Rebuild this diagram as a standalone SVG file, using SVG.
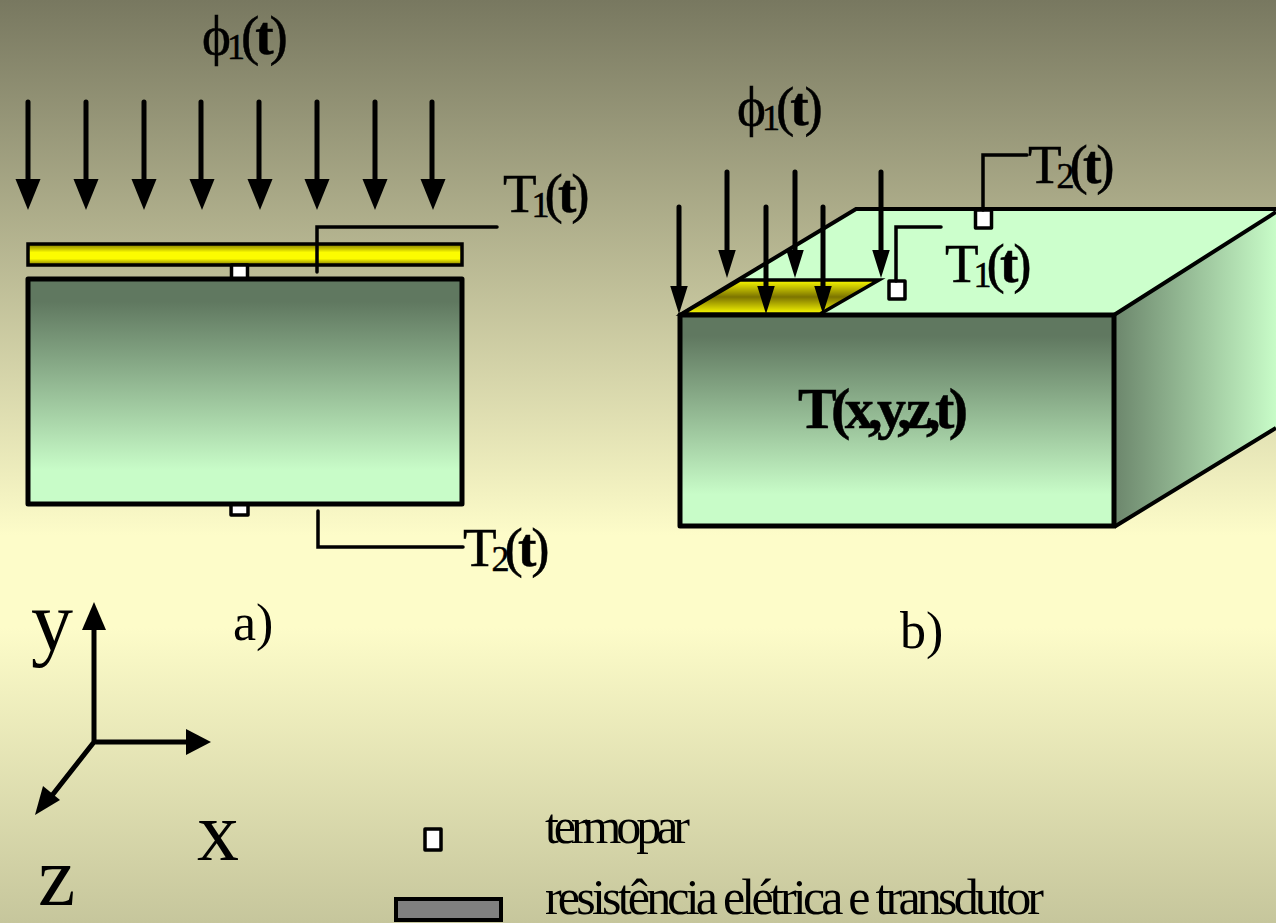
<svg xmlns="http://www.w3.org/2000/svg" width="1276" height="923" viewBox="0 0 1276 923">
<style>
text{font-family:"Liberation Serif","Times New Roman",serif;fill:#000}
.lab{font-size:55px;letter-spacing:-4px;stroke:#000;stroke-width:.5}
.tl{letter-spacing:-5px}
.sub{font-size:36px}
.b{font-weight:bold}
.big{font-size:84px}
.leg{font-size:50px}
.ln{fill:none;stroke:#000;stroke-width:3.5;stroke-linecap:round}
.ar{fill:none;stroke:#000;stroke-width:5;stroke-linecap:round}
.hd{fill:#000}
.tc{fill:#fff;stroke:#000;stroke-width:3.5;stroke-linejoin:round}
.box{stroke:#000;stroke-width:5;stroke-linejoin:round}
</style>
<defs>
<linearGradient id="bg" x1="0" y1="0" x2="0" y2="1">
<stop offset="0" stop-color="#787860"/><stop offset=".58" stop-color="#fdfcc9"/><stop offset=".68" stop-color="#fdfcc9"/><stop offset="1" stop-color="#c6c69c"/>
</linearGradient>
<linearGradient id="front" x1="0" y1="0" x2="0" y2="1">
<stop offset="0" stop-color="#607860"/><stop offset=".1" stop-color="#607860"/><stop offset=".85" stop-color="#c8fcc8"/><stop offset="1" stop-color="#c8fcc8"/>
</linearGradient>
<linearGradient id="side" x1="0" y1="0" x2="1" y2="0">
<stop offset="0" stop-color="#6c866c"/><stop offset="1" stop-color="#c8fcc8"/>
</linearGradient>
<linearGradient id="yel" x1="0" y1="0" x2="0" y2="1">
<stop offset="0" stop-color="#807800"/><stop offset=".4" stop-color="#fcfc00"/><stop offset=".7" stop-color="#fcfc00"/><stop offset="1" stop-color="#807800"/>
</linearGradient>
<linearGradient id="yel2" x1="0" y1="0" x2="0" y2="1">
<stop offset="0" stop-color="#fcfc00"/><stop offset=".5" stop-color="#7c7400"/><stop offset="1" stop-color="#fcfc00"/>
</linearGradient>
<path id="h" class="hd" d="M-12.5 0H12.5L0 31Z"/>
</defs>
<rect id="background" width="1276" height="923" fill="url(#bg)"/>

<g id="heater-a"><rect x="28" y="244" width="434" height="21" fill="url(#yel)" stroke="#000" stroke-width="3.5"/></g>
<g id="tc-a1"><rect x="231.500" y="265" width="16" height="14" class="tc"/></g>
<g id="tc-a2"><rect x="231" y="500" width="17" height="15" class="tc"/></g>
<g id="block-a"><rect x="28" y="279" width="434" height="225" fill="url(#front)" class="box"/></g>

<g id="block-b">
<path d="M680 315L856 209H1276V212L1114 315Z" fill="#ccffcc"/>
<path d="M680 315L856 209H1276" fill="none" stroke="#000" stroke-width="4"/>
<path d="M1114 315L1276 212V428L1114 527Z" fill="url(#side)"/>
<path d="M1114 315L1276 212M1114 527L1276 428" fill="none" stroke="#000" stroke-width="4"/>
<rect x="680" y="315" width="434" height="211" fill="url(#front)" class="box"/>
</g>
<g id="heater-b"><path d="M682 314L740 280H879L820 314Z" fill="url(#yel2)" stroke="#000" stroke-width="3.5"/></g>
<g id="tc-b1"><rect x="889" y="281" width="16" height="18" class="tc"/></g>
<g id="tc-b2"><rect x="975.500" y="210" width="16" height="18" class="tc"/></g>

<g id="connectors">
<g class="arrows-a">
<path class="ar" d="M28 102V182M86 102V182M144 102V182M201 102V182M259 102V182M317 102V182M375 102V182M432 102V182"/>
<use href="#h" x="28" y="179"/><use href="#h" x="86" y="179"/><use href="#h" x="144" y="179"/><use href="#h" x="202" y="179"/><use href="#h" x="260" y="179"/><use href="#h" x="317" y="179"/><use href="#h" x="375" y="179"/><use href="#h" x="433" y="179"/>
</g>
<g class="arrows-b">
<path class="ar" d="M727 172V255M795 172V255M881 172V255M679 207V290M766 207V290M823 207V290"/>
<use href="#h" transform="translate(679 286) scale(.7 .9)"/><use href="#h" transform="translate(727 250) scale(.7 .9)"/><use href="#h" transform="translate(766 286) scale(.7 .9)"/><use href="#h" transform="translate(795 250) scale(.7 .9)"/><use href="#h" transform="translate(823 286) scale(.7 .9)"/><use href="#h" transform="translate(881 250) scale(.7 .9)"/>
</g>
<path class="ln" d="M497 227H317V272"/>
<path class="ln" d="M318 511V547H463"/>
<path class="ln" d="M896 281V227H941"/>
<path class="ln" d="M983 210V155H1027"/>
<path class="ar" d="M94 742V625M94 742H190M94 742L50 798"/>
<path class="hd" d="M82 630L94 602L106 630Z"/>
<path class="hd" d="M186 729L211 742L186 755Z"/>
<path class="hd" d="M35 815L43 786L60 800Z"/>
</g>

<g id="labels">
<text class="lab" x="202" y="54">ϕ<tspan class="sub" dy="5">1</tspan><tspan dy="-5">(</tspan><tspan class="b">t</tspan>)</text>
<text class="lab" x="737" y="125">ϕ<tspan class="sub" dy="5">1</tspan><tspan dy="-5">(</tspan><tspan class="b">t</tspan>)</text>
<text class="lab tl" x="503" y="212">T<tspan class="sub" dy="5">1</tspan><tspan dy="-5">(</tspan><tspan class="b">t</tspan>)</text>
<text class="lab tl" x="463" y="566">T<tspan class="sub" dy="5">2</tspan><tspan dy="-5">(</tspan><tspan class="b">t</tspan>)</text>
<text class="lab tl" x="1028" y="183">T<tspan class="sub" dy="5">2</tspan><tspan dy="-5">(</tspan><tspan class="b">t</tspan>)</text>
<text class="lab tl" x="945" y="282">T<tspan class="sub" dy="5">1</tspan><tspan dy="-5">(</tspan><tspan class="b">t</tspan>)</text>
<text class="lab b" x="798" y="428" style="font-size:58px;letter-spacing:normal" textLength="170" lengthAdjust="spacing">T(x,y,z,t)</text>
<text x="233" y="640" font-size="52">a)</text>
<text x="900" y="648" font-size="52">b)</text>
<text class="big" x="31" y="650">y</text>
<text class="big" x="197" y="860">x</text>
<text class="big" x="38" y="905">z</text>
<text class="leg" x="545" y="843" textLength="145" lengthAdjust="spacing">termopar</text>
<text class="leg" x="545" y="914" textLength="499" lengthAdjust="spacing">resistência elétrica e transdutor</text>
</g>

<g id="legend-tc"><rect x="425" y="829" width="16" height="21" class="tc"/></g>
<g id="legend-res"><rect x="396" y="899" width="105" height="21" fill="#808080" stroke="#000" stroke-width="4"/></g>
</svg>
